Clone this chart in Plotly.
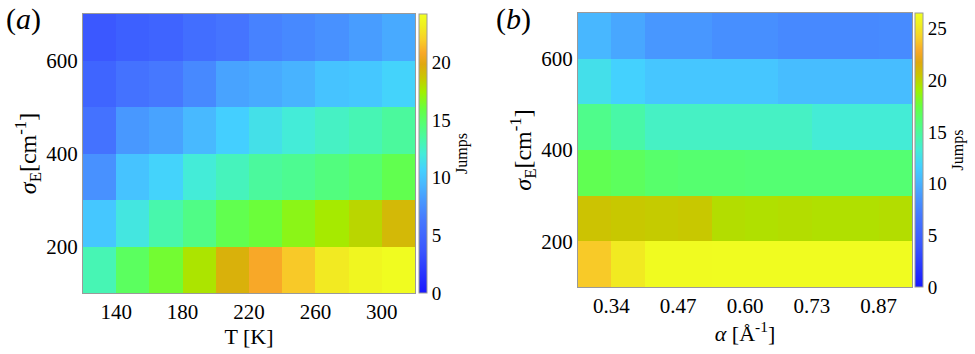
import plotly.graph_objects as go

# ---------------- data ----------------
# Panel (a): temperature vs sigma_E
T_K = [130, 150, 170, 190, 210, 230, 250, 270, 290, 310]
sigma_E = [150, 250, 350, 450, 550, 650]
jumps_a = [
    [13.0, 15.2, 16.3, 17.8, 19.5, 20.8, 21.8, 23.0, 23.6, 24.0],   # 150
    [10.2, 11.8, 13.2, 14.2, 15.6, 16.1, 16.9, 17.6, 18.2, 19.2],   # 250
    [7.6, 10.0, 10.8, 12.1, 12.8, 13.6, 13.9, 14.4, 14.8, 15.6],    # 350
    [5.8, 8.0, 8.5, 9.5, 10.6, 11.5, 12.1, 12.6, 13.0, 13.6],       # 450
    [4.8, 5.8, 6.3, 7.2, 8.5, 8.8, 9.2, 10.0, 10.2, 10.8],          # 550
    [3.8, 4.4, 4.7, 5.5, 6.0, 6.8, 7.2, 7.6, 8.2, 8.8],             # 650
]
T_ticks = [140, 180, 220, 260, 300]

# Panel (b): alpha vs sigma_E
alpha = [0.3071, 0.3729, 0.4387, 0.5045, 0.5703, 0.6361, 0.7019, 0.7677, 0.8335, 0.8993]
jumps_b = [
    [23.9, 25.2, 26.2, 26.2, 26.3, 26.3, 26.3, 26.3, 26.3, 26.3],   # 150
    [20.6, 20.4, 20.3, 20.4, 19.7, 19.6, 19.7, 19.6, 19.6, 19.7],   # 250
    [17.0, 16.7, 16.3, 16.2, 16.2, 16.1, 16.1, 16.1, 16.1, 16.1],   # 350
    [15.4, 14.6, 13.8, 13.8, 13.8, 13.8, 13.8, 13.3, 13.3, 13.3],   # 450
    [12.5, 11.7, 11.1, 11.1, 11.1, 11.1, 10.6, 10.6, 10.6, 10.6],   # 550
    [10.3, 9.5, 8.7, 8.7, 8.2, 8.2, 7.9, 7.9, 7.9, 8.0],            # 650
]
alpha_ticktext = ["0.34", "0.47", "0.60", "0.73", "0.87"]

zmax_a = 24.2
zmax_b = 26.5

# ---------------- style ----------------
cscale = [
    [0.00, "#1818ff"],
    [0.15, "#3a56ff"],
    [0.26, "#4678ff"],
    [0.33, "#4898ff"],
    [0.39, "#48b8ff"],
    [0.44, "#44d0ff"],
    [0.50, "#44ecd8"],
    [0.55, "#48f8a8"],
    [0.61, "#55ff70"],
    [0.66, "#66ff40"],
    [0.72, "#a0f000"],
    [0.77, "#c8c800"],
    [0.82, "#e0a810"],
    [0.86, "#f8a828"],
    [0.91, "#f8d028"],
    [0.96, "#f0f020"],
    [1.00, "#f0ff20"],
]

W, H = 975, 354
FONT = "Liberation Serif"
BORDER = "#9a9a9a"

def px_x(p):
    return p / W

def px_y(p):
    return 1 - p / H

# alpha cell edges -> tick positions
step = alpha[1] - alpha[0]
alpha_edges = [a - step / 2 for a in alpha] + [alpha[-1] + step / 2]
alpha_tickvals = [alpha_edges[i] for i in (1, 3, 5, 7, 9)]
T_step = T_K[1] - T_K[0]
s_step = sigma_E[1] - sigma_E[0]

fig = go.Figure()

# panel geometry (pixels)
A = dict(x0=83, x1=415, y0=14, y1=293)
B = dict(x0=578, x1=912, y0=13, y1=287)

def cbar(geom, cb_x, ticks):
    return dict(
        thickness=8, xpad=0, ypad=0,
        x=px_x(cb_x), xanchor="left", xref="paper",
        y=(px_y(geom["y0"]) + px_y(geom["y1"])) / 2, yanchor="middle",
        len=(geom["y1"] - geom["y0"]) / H, lenmode="fraction",
        outlinewidth=1, outlinecolor=BORDER,
        tickvals=ticks, ticks="",
        tickfont=dict(family=FONT, size=19, color="black"),
        title=dict(text="Jumps", side="right",
                   font=dict(family=FONT, size=16, color="black")),
    )

fig.add_trace(go.Heatmap(
    x=T_K, y=sigma_E, z=jumps_a, zmin=0, zmax=zmax_a,
    colorscale=cscale, xaxis="x", yaxis="y",
    colorbar=cbar(A, 419, [0, 5, 10, 15, 20]),
))
fig.add_trace(go.Heatmap(
    x=alpha, y=sigma_E, z=jumps_b, zmin=0, zmax=zmax_b,
    colorscale=cscale, xaxis="x2", yaxis="y2",
    colorbar=cbar(B, 915, [0, 5, 10, 15, 20, 25]),
))

axfont = dict(family=FONT, size=21, color="black")
common = dict(showline=True, linecolor=BORDER, linewidth=1, mirror=True,
              ticks="", showgrid=False, zeroline=False, tickfont=axfont,
              automargin=False)

ytitle = "<i>σ</i><sub>E</sub>[cm<sup>-1</sup>]"

fig.update_layout(
    width=W, height=H,
    margin=dict(l=0, r=0, t=0, b=0, autoexpand=False),
    paper_bgcolor="white", plot_bgcolor="white",
    font=dict(family=FONT, color="black"),
    xaxis=dict(domain=[px_x(A["x0"]), px_x(A["x1"])], anchor="y",
               range=[T_K[0] - T_step / 2, T_K[-1] + T_step / 2],
               tickvals=T_ticks,
               title=dict(text="T [K]", font=dict(family=FONT, size=22), standoff=2),
               **common),
    yaxis=dict(domain=[px_y(A["y1"]), px_y(A["y0"])], anchor="x",
               range=[sigma_E[0] - s_step / 2, sigma_E[-1] + s_step / 2],
               tickvals=[200, 400, 600],
               title=dict(text=ytitle, font=dict(family=FONT, size=24), standoff=2),
               **common),
    xaxis2=dict(domain=[px_x(B["x0"]), px_x(B["x1"])], anchor="y2",
                range=[alpha_edges[0], alpha_edges[-1]],
                tickvals=alpha_tickvals, ticktext=alpha_ticktext,
                title=dict(text="<i>α</i> [Å<sup>-1</sup>]", font=dict(family=FONT, size=22), standoff=2),
                **common),
    yaxis2=dict(domain=[px_y(B["y1"]), px_y(B["y0"])], anchor="x2",
                range=[sigma_E[0] - s_step / 2, sigma_E[-1] + s_step / 2],
                tickvals=[200, 400, 600],
                title=dict(text=ytitle, font=dict(family=FONT, size=24), standoff=2),
                **common),
    annotations=[
        dict(text="(<i>a</i>)", x=px_x(4), y=px_y(0), xref="paper", yref="paper",
             xanchor="left", yanchor="top", showarrow=False,
             font=dict(family=FONT, size=30, color="black")),
        dict(text="(<i>b</i>)", x=px_x(494), y=px_y(0), xref="paper", yref="paper",
             xanchor="left", yanchor="top", showarrow=False,
             font=dict(family=FONT, size=30, color="black")),
    ],
)

fig.write_html("out.html", config={"displayModeBar": False},
               post_script="document.body.style.margin='0';")
